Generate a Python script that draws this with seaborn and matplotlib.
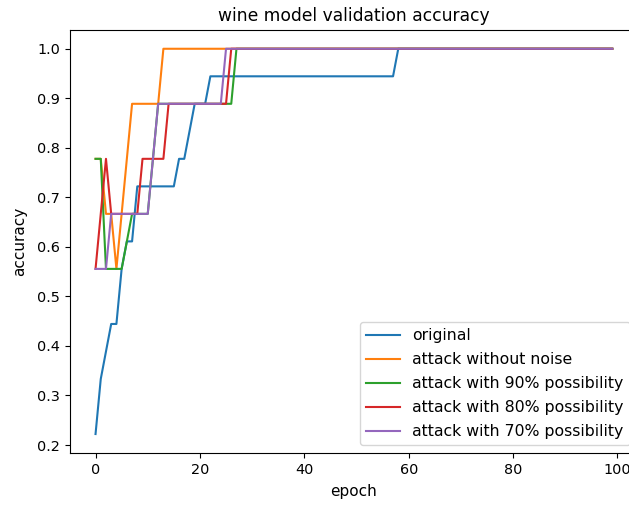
import matplotlib
matplotlib.use("Agg")
import matplotlib.pyplot as plt
import seaborn as sns
import pandas as pd
import numpy as np

epochs = list(range(100))

original = ([0.2222, 0.3333, 0.3889, 0.4444, 0.4444, 0.5556, 0.6111, 0.6111]
            + [0.7222] * 8 + [0.7778] * 2 + [0.8333] + [0.8889] * 3
            + [0.9444] * 36 + [1.0] * 42)
no_noise = ([0.7778, 0.7778, 0.6667, 0.6667, 0.5556, 0.6667, 0.7778]
            + [0.8889] * 6 + [1.0] * 87)
p90 = ([0.7778, 0.7778] + [0.5556] * 4 + [0.6111] + [0.6667] * 4 + [0.7778]
       + [0.8889] * 15 + [1.0] * 73)
p80 = ([0.5556, 0.6667, 0.7778] + [0.6667] * 6 + [0.7778] * 5
       + [0.8889] * 12 + [1.0] * 74)
p70 = ([0.5556] * 3 + [0.6667] * 8 + [0.7778] + [0.8889] * 13 + [1.0] * 75)

labels = ["original", "attack without noise", "attack with 90% possibility",
          "attack with 80% possibility", "attack with 70% possibility"]
series = [original, no_noise, p90, p80, p70]

frames = []
for lab, vals in zip(labels, series):
    frames.append(pd.DataFrame({"epoch": epochs, "accuracy": vals, "run": lab}))
df = pd.concat(frames, ignore_index=True)

fig = plt.figure(figsize=(6.29, 5.05), dpi=100)
W, H = 629, 505
left, right, top, bottom = 69.7, 638.1, 29.5, 453.3
ax = fig.add_axes([left / W, (H - bottom) / H, (right - left) / W, (bottom - top) / H])

sns.lineplot(data=df, x="epoch", y="accuracy", hue="run", hue_order=labels,
             palette=sns.color_palette("tab10", 5), linewidth=1.5, ax=ax)

ax.set_title("wine model validation accuracy", fontsize=12.3)
ax.set_xlabel("epoch", fontsize=11, labelpad=5)
ax.set_ylabel("accuracy", fontsize=11, labelpad=7)
ax.set_xticks([0, 20, 40, 60, 80, 100])
ax.set_yticks([0.2, 0.3, 0.4, 0.5, 0.6, 0.7, 0.8, 0.9, 1.0])
ax.tick_params(labelsize=10.4)
ax.legend(loc="lower right", title=None, fontsize=11.35,
          labelspacing=0.565, handlelength=2.15)

fig.savefig("out.png", dpi=100)
